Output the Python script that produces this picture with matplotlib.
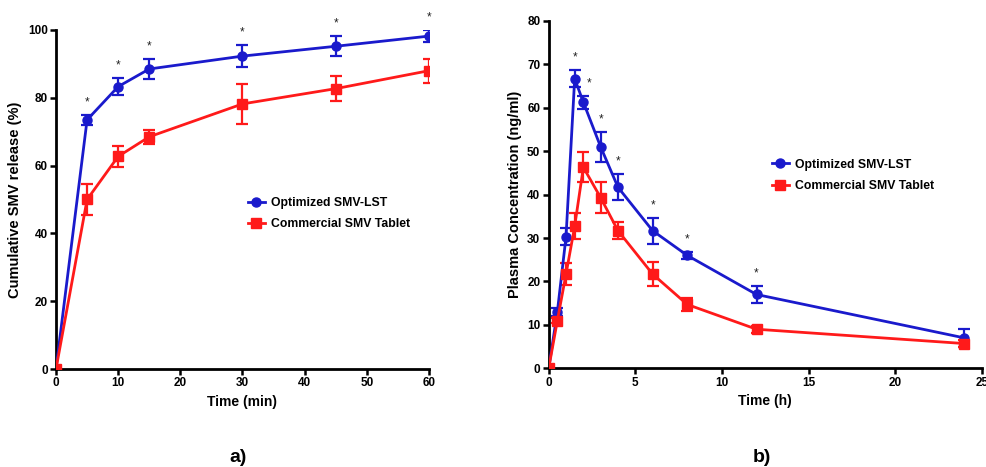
import numpy as np
import matplotlib.pyplot as plt
from matplotlib.lines import Line2D

plt.rcParams["font.family"] = ["Liberation Sans", "DejaVu Sans"]
plt.rcParams["font.weight"] = "bold"

# release study (min)
t_rel = [0, 5, 10, 15, 30, 45, 60]
rel_opt = [0, 73.5, 83.3, 88.5, 92.3, 95.2, 98.2]
rel_opt_sd = [0, 1.5, 2.5, 3.0, 3.2, 3.0, 1.8]
rel_com = [0, 50.0, 62.7, 68.5, 78.2, 82.7, 88.0]
rel_com_sd = [0, 4.5, 3.2, 2.0, 6.0, 3.7, 3.5]
rel_sig = [5, 10, 15, 30, 45, 60]

# plasma profile (h)
t_pk = [0, 0.5, 1, 1.5, 2, 3, 4, 6, 8, 12, 24]
pk_opt = [0, 13.0, 30.3, 66.7, 61.3, 51.0, 41.7, 31.7, 26.0, 17.0, 7.0]
pk_opt_sd = [0, 1.0, 2.0, 2.0, 1.5, 3.5, 3.0, 3.0, 0.8, 2.0, 2.0]
pk_com = [0, 11.0, 21.7, 32.7, 46.3, 39.3, 31.7, 21.7, 14.7, 9.0, 5.7]
pk_com_sd = [0, 0.5, 2.5, 3.0, 3.5, 3.5, 2.0, 2.8, 1.5, 0.8, 0.8]
pk_sig = [1.5, 2, 3, 4, 6, 8, 12]

labels = ["Optimized SMV-LST", "Commercial SMV Tablet"]
BLUE = "#1a1acc"
RED = "#ff1a1a"


def draw_series(ax, x, y, err, color, marker):
    ax.errorbar(x, y, yerr=err, color=color, marker=marker, markersize=6.5,
                linewidth=2, elinewidth=1.6, capsize=4, capthick=1.6, zorder=3)


def mark_sig(ax, x, y, err, sig, shift=None):
    shift = shift or {}
    for xi, yi, ei in zip(x, y, err):
        if xi in sig:
            ax.annotate("*", (xi, yi + ei), xytext=(shift.get(xi, 0), 9),
                        textcoords="offset points", ha="center", va="center",
                        fontsize=8.5, fontweight="normal", color="#222222")


def style_axes(ax):
    for s in ["top", "right"]:
        ax.spines[s].set_visible(False)
    for s in ["left", "bottom"]:
        ax.spines[s].set_linewidth(2)
    ax.tick_params(width=1.8, length=4, labelsize=8.5, pad=2)
    for lab in ax.get_xticklabels() + ax.get_yticklabels():
        lab.set_fontweight("bold")
    ax.patch.set_alpha(0)


def add_legend(ax, anchor):
    handles = [Line2D([], [], color=BLUE, marker="o", markersize=6.5, linewidth=2),
               Line2D([], [], color=RED, marker="s", markersize=6.5, linewidth=2)]
    ax.legend(handles, labels, loc="upper left", bbox_to_anchor=anchor,
              frameon=False, handlelength=1.4, handletextpad=0.5,
              labelspacing=0.75, prop={"weight": "bold", "size": 8.8})


fig = plt.figure(figsize=(9.87, 4.67), dpi=100)
ax1 = fig.add_axes([56 / 987, 1 - 369 / 467, 373 / 987, 339 / 467])
ax2 = fig.add_axes([548.7 / 987, 1 - 368.3 / 467, 433 / 987, 347.3 / 467])

draw_series(ax1, t_rel, rel_opt, rel_opt_sd, BLUE, "o")
draw_series(ax1, t_rel, rel_com, rel_com_sd, RED, "s")
mark_sig(ax1, t_rel, rel_opt, rel_opt_sd, rel_sig)
ax1.set_xlim(0, 60)
ax1.set_ylim(0, 100)
ax1.set_xticks(np.arange(0, 61, 10))
ax1.set_yticks(np.arange(0, 101, 20))
ax1.set_xlabel("Time (min)", fontsize=10, fontweight="bold", labelpad=4)
ax1.set_ylabel("Cumulative SMV release (%)", fontsize=10.5, fontweight="bold", labelpad=4)
style_axes(ax1)
add_legend(ax1, (0.485, 0.54))

draw_series(ax2, t_pk, pk_opt, pk_opt_sd, BLUE, "o")
draw_series(ax2, t_pk, pk_com, pk_com_sd, RED, "s")
mark_sig(ax2, t_pk, pk_opt, pk_opt_sd, pk_sig, shift={2: 4})
ax2.set_xlim(0, 25)
ax2.set_ylim(0, 80)
ax2.set_xticks(np.arange(0, 26, 5))
ax2.set_yticks(np.arange(0, 81, 10))
ax2.set_xlabel("Time (h)", fontsize=10, fontweight="bold", labelpad=4)
ax2.set_ylabel("Plasma Concentration (ng/ml)", fontsize=10.5, fontweight="bold", labelpad=4)
style_axes(ax2)
add_legend(ax2, (0.49, 0.635))

fig.text(238 / 987, 1 - 457 / 467, "a)", fontsize=14, fontweight="bold",
         ha="center", va="center")
fig.text(762 / 987, 1 - 457 / 467, "b)", fontsize=14, fontweight="bold",
         ha="center", va="center")

fig.savefig("out.png", dpi=100)
